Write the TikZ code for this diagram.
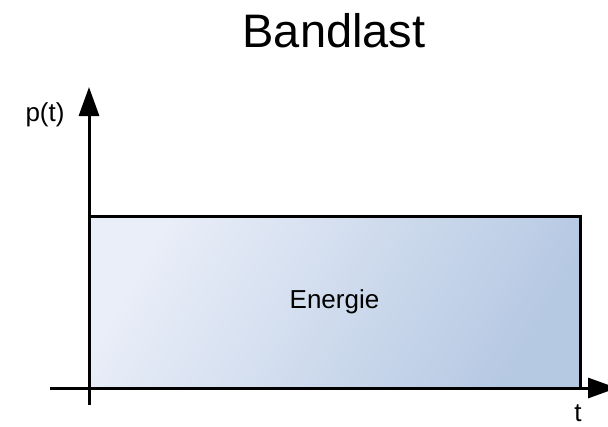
\documentclass[tikz,border=0pt]{standalone}
\usepackage{fontspec}
\setmainfont{Liberation Sans}
\usetikzlibrary{shapes,arrows.meta}

\definecolor{boxlight}{HTML}{E9EEF8}
\definecolor{boxdark}{HTML}{B6C9E3}

\begin{document}
\begin{tikzpicture}[x=1pt,y=-1pt]
		\tikzstyle {axis line} = [line width=3pt, -{Triangle[length=29pt,width=20pt]}]
		\tikzstyle {label text} = [font=\fontsize{26}{30}\selectfont, anchor=base, inner sep=0pt]

		\useasboundingbox (0,0) rectangle (608,426);

		% title
		\node[font=\fontsize{47}{54}\selectfont, anchor=base, inner sep=0pt] (title) at (334,47) {Bandlast};

		% energy block
		\node[draw, line width=3pt, minimum width=491pt, minimum height=172pt,
		      left color=boxlight, right color=boxdark, shading angle=60,
		      font=\fontsize{26}{30}\selectfont] (energie) at (334.5,302) {Energie};

		% axes
		\coordinate (ystart) at (89,405);
		\coordinate (yend) at (89,87);
		\coordinate (xstart) at (50,388);
		\coordinate (xend) at (617,388);

		\draw[axis line] (ystart) -- (yend);
		\draw[axis line] (xstart) -- (xend);

		\node[label text] (plabel) at (45,121) {p(t)};
		\node[label text] (tlabel) at (578,421) {t};
\end{tikzpicture}
\end{document}
